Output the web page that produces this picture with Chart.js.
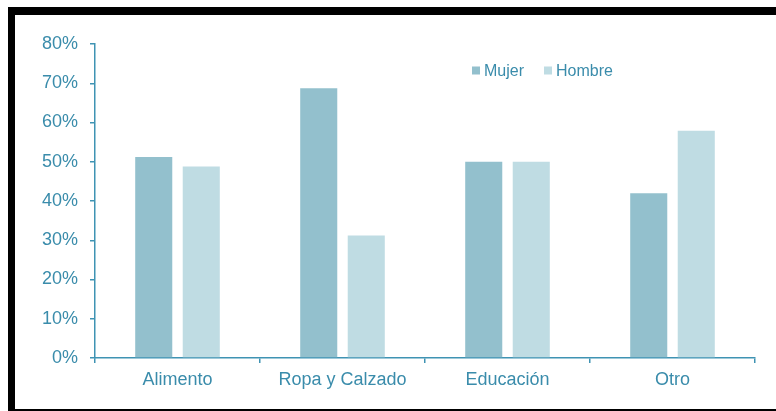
<!DOCTYPE html>
<html>
<head>
<meta charset="utf-8">
<script src="https://cdn.jsdelivr.net/npm/chart.js@4"></script>
<style>
  html, body { margin: 0; padding: 0; background: #fff; overflow: hidden; }
  #frame {
    position: absolute; left: 8px; top: 7px;
    width: 800px; height: 394px;
    border-left: 7px solid #000; border-top: 8px solid #000; border-bottom: 8px solid #000;
  }
  #wrap { position: absolute; left: 0; top: 0; width: 776px; height: 411px; }
</style>
</head>
<body>
<div id="frame"></div>
<div id="wrap"><canvas id="chart" width="776" height="411"></canvas></div>
<script>
const categories = ["Alimento", "Ropa y Calzado", "Educación", "Otro"];
const mujer = [51.2, 68.7, 50.0, 42.0];
const hombre = [48.8, 31.2, 50.0, 57.9];
const seriesNames = ["Mujer", "Hombre"];
const yTicks = [0, 10, 20, 30, 40, 50, 60, 70, 80];

const textColor = "#3a8cab";
const axisColor = "#3f93b3";
const font = "'Liberation Sans', Arial, sans-serif";

// legend drawn inside the plot, right of centre
const insideLegend = {
  id: "insideLegend",
  afterDraw(chart) {
    const ctx = chart.ctx;
    const pos = [472, 544];
    const y = 70.5;
    ctx.save();
    ctx.font = "16px " + font;
    ctx.textBaseline = "middle";
    chart.data.datasets.forEach((ds, i) => {
      ctx.fillStyle = ds.backgroundColor;
      ctx.fillRect(pos[i], y - 4, 8, 8);
      ctx.fillStyle = textColor;
      ctx.fillText(ds.label, pos[i] + 12, y + 1);
    });
    ctx.restore();
  }
};

new Chart(document.getElementById("chart"), {
  type: "bar",
  data: {
    labels: categories,
    datasets: [
      { label: seriesNames[0], data: mujer, backgroundColor: "#93c0cd" },
      { label: seriesNames[1], data: hombre, backgroundColor: "#bfdce3" },
    ],
  },
  options: {
    responsive: false,
    animation: false,
    layout: { padding: { top: 44, right: 21, left: 0, bottom: 0 } },
    categoryPercentage: 0.576,
    barPercentage: 0.78,
    plugins: {
      legend: { display: false },
      tooltip: { enabled: false },
    },
    scales: {
      x: {
        grid: { display: true, drawOnChartArea: false, offset: true, tickLength: 5, color: axisColor, lineWidth: 1.5 },
        border: { color: axisColor, width: 1.5 },
        ticks: { color: textColor, font: { family: font, size: 18 }, padding: 6 },
        afterFit: (s) => { s.height = 53; },
      },
      y: {
        min: 0,
        max: 80,
        afterBuildTicks: (s) => { s.ticks = yTicks.map((v) => ({ value: v })); },
        grid: { display: true, drawOnChartArea: false, tickLength: 5, color: axisColor, lineWidth: 1.5 },
        border: { color: axisColor, width: 1.5 },
        ticks: { color: textColor, font: { family: font, size: 18 }, padding: 12, callback: (v) => v + "%" },
        afterFit: (s) => { s.width = 95; },
      },
    },
  },
  plugins: [insideLegend],
});
</script>
</body>
</html>
